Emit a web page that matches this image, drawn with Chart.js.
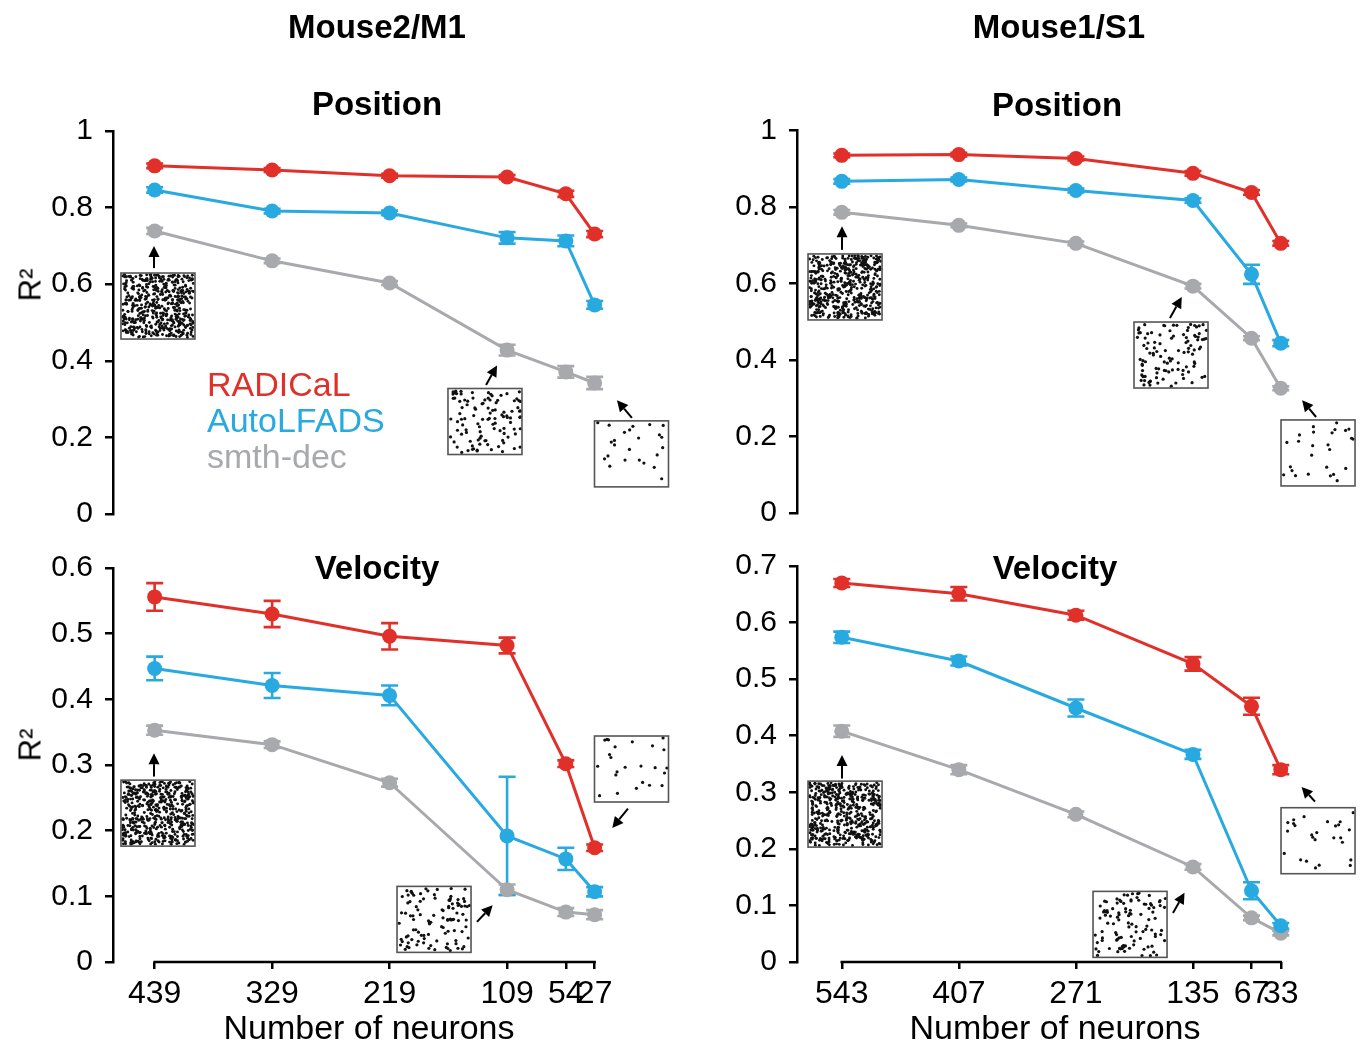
<!DOCTYPE html>
<html><head><meta charset="utf-8">
<script src="https://cdn.jsdelivr.net/npm/chart.js@4.4.1/dist/chart.umd.min.js"></script>
<style>
html,body{margin:0;padding:0;background:#fff;}
#wrap{position:relative;width:1361px;height:1042px;overflow:hidden;font-family:'Liberation Sans',Arial,Helvetica,sans-serif;background:#fff;}
canvas{position:absolute;left:0;top:0;}
.t{position:absolute;transform:translate(-50%,-50%);white-space:nowrap;color:#000;line-height:1;}
.b{font-weight:bold;font-size:33px;}
.ax{font-size:34px;}
.r2{font-size:31px;transform:translate(-50%,-50%) rotate(-90deg);}
</style></head><body>
<div id="wrap">
<canvas id="m1pos" width="1361" height="1042"></canvas>
<canvas id="s1pos" width="1361" height="1042"></canvas>
<canvas id="m1vel" width="1361" height="1042"></canvas>
<canvas id="s1vel" width="1361" height="1042"></canvas>
<div class="t b" style="left:377px;top:26px">Mouse2/M1</div>
<div class="t b" style="left:1059px;top:26px">Mouse1/S1</div>
<div class="t b" style="left:377px;top:103px">Position</div>
<div class="t b" style="left:1057px;top:104px">Position</div>
<div class="t b" style="left:377px;top:567px">Velocity</div>
<div class="t b" style="left:1055px;top:567px">Velocity</div>
<div class="t r2" style="left:30px;top:285px">R²</div>
<div class="t r2" style="left:30px;top:745px">R²</div>
<div class="t ax" style="left:369px;top:1027px">Number of neurons</div>
<div class="t ax" style="left:1055px;top:1027px">Number of neurons</div>
</div>
<script>
// ---------------- DATA ----------------
const seriesNames = ['RADICaL', 'AutoLFADS', 'smth-dec'];

const neuronsM1 = [439, 329, 219, 109, 54, 27];
const neuronsS1 = [543, 407, 271, 135, 67, 33];
const xTickLabelsM1 = ['439', '329', '219', '109', '54', '27'];
const xTickLabelsS1 = ['543', '407', '271', '135', '67', '33'];

const posTicks = [0, 0.2, 0.4, 0.6, 0.8, 1];
const posTickLabels = ['0', '0.2', '0.4', '0.6', '0.8', '1'];
const velTicksM1 = [0, 0.1, 0.2, 0.3, 0.4, 0.5, 0.6];
const velTickLabelsM1 = ['0', '0.1', '0.2', '0.3', '0.4', '0.5', '0.6'];
const velTicksS1 = [0, 0.1, 0.2, 0.3, 0.4, 0.5, 0.6, 0.7];
const velTickLabelsS1 = ['0', '0.1', '0.2', '0.3', '0.4', '0.5', '0.6', '0.7'];

// Mouse2/M1 position
const m1PosRadical = [0.909, 0.898, 0.883, 0.880, 0.836, 0.731];
const m1PosRadicalErr = [0.006, 0.005, 0.005, 0.005, 0.008, 0.008];
const m1PosAuto = [0.846, 0.791, 0.786, 0.721, 0.713, 0.546];
const m1PosAutoErr = [0.007, 0.006, 0.006, 0.015, 0.014, 0.010];
const m1PosSmth = [0.739, 0.661, 0.603, 0.428, 0.371, 0.342];
const m1PosSmthErr = [0.008, 0.006, 0.005, 0.014, 0.015, 0.016];

// Mouse1/S1 position
const s1PosRadical = [0.935, 0.937, 0.927, 0.888, 0.838, 0.705];
const s1PosRadicalErr = [0.005, 0.005, 0.005, 0.006, 0.006, 0.006];
const s1PosAuto = [0.867, 0.872, 0.843, 0.817, 0.624, 0.444];
const s1PosAutoErr = [0.006, 0.005, 0.005, 0.006, 0.025, 0.008];
const s1PosSmth = [0.786, 0.752, 0.705, 0.593, 0.457, 0.326];
const s1PosSmthErr = [0.006, 0.005, 0.005, 0.006, 0.005, 0.005];

// Mouse2/M1 velocity
const m1VelRadical = [0.556, 0.530, 0.496, 0.482, 0.302, 0.174];
const m1VelRadicalErr = [0.021, 0.020, 0.020, 0.012, 0.005, 0.005];
const m1VelAuto = [0.447, 0.421, 0.406, 0.192, 0.157, 0.107];
const m1VelAutoErr = [0.018, 0.019, 0.015, 0.090, 0.017, 0.007];
const m1VelSmth = [0.353, 0.331, 0.273, 0.110, 0.076, 0.072];
const m1VelSmthErr = [0.007, 0.005, 0.006, 0.008, 0.006, 0.007];

// Mouse1/S1 velocity
const s1VelRadical = [0.670, 0.651, 0.613, 0.527, 0.452, 0.340];
const s1VelRadicalErr = [0.007, 0.012, 0.008, 0.012, 0.015, 0.008];
const s1VelAuto = [0.574, 0.532, 0.449, 0.367, 0.126, 0.064];
const s1VelAutoErr = [0.010, 0.008, 0.015, 0.008, 0.015, 0.005];
const s1VelSmth = [0.408, 0.340, 0.261, 0.168, 0.078, 0.051];
const s1VelSmthErr = [0.010, 0.008, 0.005, 0.005, 0.004, 0.004];

// ---------------- STYLE / LAYOUT ----------------
const seriesColors = ['#E1302A', '#28A9E0', '#A7A9AC'];
const FONT = "'Liberation Sans', Arial, Helvetica, sans-serif";
const W = 1361, H = 1042;

// sample-neuron insets (decorative), placed in data coordinates of each panel
// [centerX, centerY, dotCount, seed, arrowFromX, arrowFromY, arrowToX, arrowToY]
const insetsM1Pos = [
  [435.9, 0.543, 520, 11, 439.6, 0.642, 439.6, 0.700],
  [129.7, 0.2415, 105, 12, 128.7, 0.337, 118.4, 0.388],
  [-7.5, 0.157, 24, 13, -7.9, 0.251, 6.1, 0.297]
];
const insetsS1Pos = [
  [539.2, 0.591, 520, 21, 542.7, 0.688, 542.7, 0.750],
  [160.5, 0.413, 105, 22, 161.7, 0.510, 148.0, 0.565],
  [-10.3, 0.157, 26, 23, -8.0, 0.251, 8.2, 0.295]
];
const insetsM1Vel = [
  [435.9, 0.2267, 520, 31, 439.6, 0.2824, 439.6, 0.318],
  [177.4, 0.0649, 105, 32, 137.2, 0.0611, 122.5, 0.0865],
  [-7.5, 0.2939, 24, 33, -4.2, 0.2336, 10.5, 0.2040]
];
const insetsS1Vel = [
  [539.2, 0.2614, 520, 41, 542.7, 0.3243, 542.7, 0.366],
  [208.1, 0.0665, 105, 42, 158.2, 0.0868, 144.8, 0.1225],
  [-10.3, 0.2144, 26, 43, -6.8, 0.2835, 8.8, 0.3095]
];

function lcg(seed) {
  let s = (seed * 2654435761) >>> 0;
  return () => { s = (Math.imul(s, 1664525) + 1013904223) >>> 0; return s / 4294967296; };
}

const errorBarPlugin = {
  id: 'errorBars',
  beforeDatasetsDraw(chart) {
    const ctx = chart.ctx, ys = chart.scales.y;
    for (let i = chart.data.datasets.length - 1; i >= 0; i--) {
      const ds = chart.data.datasets[i];
      const meta = chart.getDatasetMeta(i);
      if (!ds.errors) continue;
      ctx.save();
      ctx.strokeStyle = ds.borderColor;
      ctx.lineWidth = 2.6;
      meta.data.forEach((pt, j) => {
        const v = ds.data[j].y, e = ds.errors[j];
        const yt = ys.getPixelForValue(v + e), yb = ys.getPixelForValue(v - e);
        const x = pt.x, hw = 8.5;
        ctx.beginPath();
        ctx.moveTo(x, yt); ctx.lineTo(x, yb);
        ctx.moveTo(x - hw, yt); ctx.lineTo(x + hw, yt);
        ctx.moveTo(x - hw, yb); ctx.lineTo(x + hw, yb);
        ctx.stroke();
      });
      ctx.restore();
    }
  }
};

const xLinePlugin = {
  id: 'xLine',
  afterDraw(chart, args, opts) {
    if (!opts || !opts.ticks) return;
    const xs = chart.scales.x, ctx = chart.ctx;
    const y = chart.chartArea.bottom;
    ctx.save();
    ctx.strokeStyle = '#000';
    ctx.lineWidth = 2.5;
    ctx.beginPath();
    ctx.moveTo(xs.getPixelForValue(opts.ticks[0]) - 1.25, y);
    ctx.lineTo(xs.getPixelForValue(opts.ticks[opts.ticks.length - 1]) + 1.25, y);
    ctx.stroke();
    ctx.restore();
  }
};

const insetPlugin = {
  id: 'insets',
  afterDraw(chart, args, opts) {
    if (!opts || !opts.items) return;
    const xs = chart.scales.x, ys = chart.scales.y, ctx = chart.ctx;
    opts.items.forEach(it => {
      const [icx, icy, n, seed, fx, fy, tx, ty] = it;
      const cx = xs.getPixelForValue(icx), cy = ys.getPixelForValue(icy);
      const w = 74, h = 66, x0 = cx - w / 2, y0 = cy - h / 2;
      ctx.save();
      ctx.fillStyle = '#fff';
      ctx.fillRect(x0, y0, w, h);
      const rnd = lcg(seed);
      ctx.fillStyle = '#111';
      const r = n > 300 ? 1.45 : 1.6;
      for (let i = 0; i < n; i++) {
        const px = x0 + 1.5 + rnd() * (w - 3), py = y0 + 1.5 + rnd() * (h - 3);
        ctx.beginPath(); ctx.arc(px, py, r, 0, Math.PI * 2); ctx.fill();
      }
      ctx.strokeStyle = '#555';
      ctx.lineWidth = 1.6;
      ctx.strokeRect(x0, y0, w, h);
      // arrow
      const ax0 = xs.getPixelForValue(fx), ay0 = ys.getPixelForValue(fy);
      const ax1 = xs.getPixelForValue(tx), ay1 = ys.getPixelForValue(ty);
      const ang = Math.atan2(ay1 - ay0, ax1 - ax0);
      const hl = 11, hwid = 5.5;
      const bx = ax1 - hl * Math.cos(ang), by = ay1 - hl * Math.sin(ang);
      ctx.strokeStyle = '#000'; ctx.fillStyle = '#000'; ctx.lineWidth = 2;
      ctx.beginPath(); ctx.moveTo(ax0, ay0); ctx.lineTo(bx, by); ctx.stroke();
      ctx.beginPath();
      ctx.moveTo(ax1, ay1);
      ctx.lineTo(bx + hwid * Math.sin(ang), by - hwid * Math.cos(ang));
      ctx.lineTo(bx - hwid * Math.sin(ang), by + hwid * Math.cos(ang));
      ctx.closePath(); ctx.fill();
      ctx.restore();
    });
  }
};

const legendPlugin = {
  id: 'textLegend',
  afterDraw(chart, args, opts) {
    if (!opts || !opts.show) return;
    const ctx = chart.ctx;
    ctx.save();
    ctx.font = '34px ' + FONT;
    ctx.textAlign = 'left';
    ctx.textBaseline = 'alphabetic';
    seriesNames.forEach((name, i) => {
      ctx.fillStyle = seriesColors[i];
      ctx.fillText(name, opts.x, opts.y + i * 36);
    });
    ctx.restore();
  }
};

function makePanel(id, cfg) {
  const Y_AXIS_W = 100, X_AXIS_H = 70;
  const xh = cfg.showX ? X_AXIS_H : 0;
  const padding = {
    left: cfg.plotLeft - Y_AXIS_W,
    right: W - cfg.plotRight,
    top: cfg.plotTop,
    bottom: H - cfg.plotBottom - xh
  };
  const datasets = cfg.series.map((s, i) => ({
    label: seriesNames[i],
    data: cfg.neurons.map((n, j) => ({ x: n, y: s[j] })),
    errors: cfg.errors[i],
    borderColor: seriesColors[i],
    backgroundColor: seriesColors[i],
    pointBackgroundColor: seriesColors[i],
    pointBorderWidth: 0,
    pointRadius: 7.5,
    borderWidth: 3,
    tension: 0,
    clip: false
  }));
  return new Chart(document.getElementById(id), {
    type: 'line',
    data: { datasets },
    options: {
      responsive: false,
      animation: false,
      events: [],
      layout: { padding, autoPadding: false },
      plugins: {
        legend: { display: false },
        tooltip: { enabled: false },
        title: { display: false },
        insets: { items: cfg.insets },
        xLine: cfg.showX ? { ticks: cfg.neurons } : {},
        textLegend: cfg.legend || {}
      },
      scales: {
        x: {
          type: 'linear',
          reverse: true,
          min: cfg.xMin, max: cfg.xMax,
          display: cfg.showX,
          afterBuildTicks: s => { s.ticks = cfg.neurons.map(v => ({ value: v })); },
          afterFit: s => { s.height = xh; },
          grid: { display: true, drawOnChartArea: false, drawTicks: true, tickLength: 7, color: '#000', lineWidth: 2.5 },
          border: { display: false },
          ticks: {
            autoSkip: false, maxRotation: 0, minRotation: 0, padding: 6,
            color: '#000', font: { family: FONT, size: 32 },
            callback: (v, i) => cfg.xLabels[i]
          }
        },
        y: {
          type: 'linear',
          min: 0, max: cfg.yMax,
          afterBuildTicks: s => { s.ticks = cfg.yTicks.map(v => ({ value: v })); },
          afterFit: s => { s.width = Y_AXIS_W; },
          grid: { display: true, drawOnChartArea: false, drawTicks: true, tickLength: 8, color: '#000', lineWidth: 2.5 },
          border: { display: true, color: '#000', width: 2.5 },
          ticks: {
            padding: 12, color: '#000', font: { family: FONT, size: 30 },
            callback: (v, i) => cfg.yLabels[i]
          }
        }
      }
    },
    plugins: [errorBarPlugin, xLinePlugin, insetPlugin, legendPlugin]
  });
}

makePanel('m1pos', {
  plotLeft: 113, plotRight: 113 + 493 * 440 / 412, plotTop: 131, plotBottom: 514,
  xMin: -15, xMax: 478, yMax: 1, showX: false,
  neurons: neuronsM1, xLabels: xTickLabelsM1, yTicks: posTicks, yLabels: posTickLabels,
  series: [m1PosRadical, m1PosAuto, m1PosSmth],
  errors: [m1PosRadicalErr, m1PosAutoErr, m1PosSmthErr],
  insets: insetsM1Pos,
  legend: { show: true, x: 207, y: 396 }
});
makePanel('s1pos', {
  plotLeft: 797, plotRight: 797 + 619 * 439 / 510, plotTop: 130.5, plotBottom: 513,
  xMin: -24, xMax: 595, yMax: 1, showX: false,
  neurons: neuronsS1, xLabels: xTickLabelsS1, yTicks: posTicks, yLabels: posTickLabels,
  series: [s1PosRadical, s1PosAuto, s1PosSmth],
  errors: [s1PosRadicalErr, s1PosAutoErr, s1PosSmthErr],
  insets: insetsS1Pos
});
makePanel('m1vel', {
  plotLeft: 113, plotRight: 113 + 493 * 440 / 412, plotTop: 568, plotBottom: 962,
  xMin: -15, xMax: 478, yMax: 0.6, showX: true,
  neurons: neuronsM1, xLabels: xTickLabelsM1, yTicks: velTicksM1, yLabels: velTickLabelsM1,
  series: [m1VelRadical, m1VelAuto, m1VelSmth],
  errors: [m1VelRadicalErr, m1VelAutoErr, m1VelSmthErr],
  insets: insetsM1Vel
});
makePanel('s1vel', {
  plotLeft: 797, plotRight: 797 + 619 * 439 / 510, plotTop: 566, plotBottom: 962,
  xMin: -24, xMax: 595, yMax: 0.7, showX: true,
  neurons: neuronsS1, xLabels: xTickLabelsS1, yTicks: velTicksS1, yLabels: velTickLabelsS1,
  series: [s1VelRadical, s1VelAuto, s1VelSmth],
  errors: [s1VelRadicalErr, s1VelAutoErr, s1VelSmthErr],
  insets: insetsS1Vel
});
</script>
</body></html>
